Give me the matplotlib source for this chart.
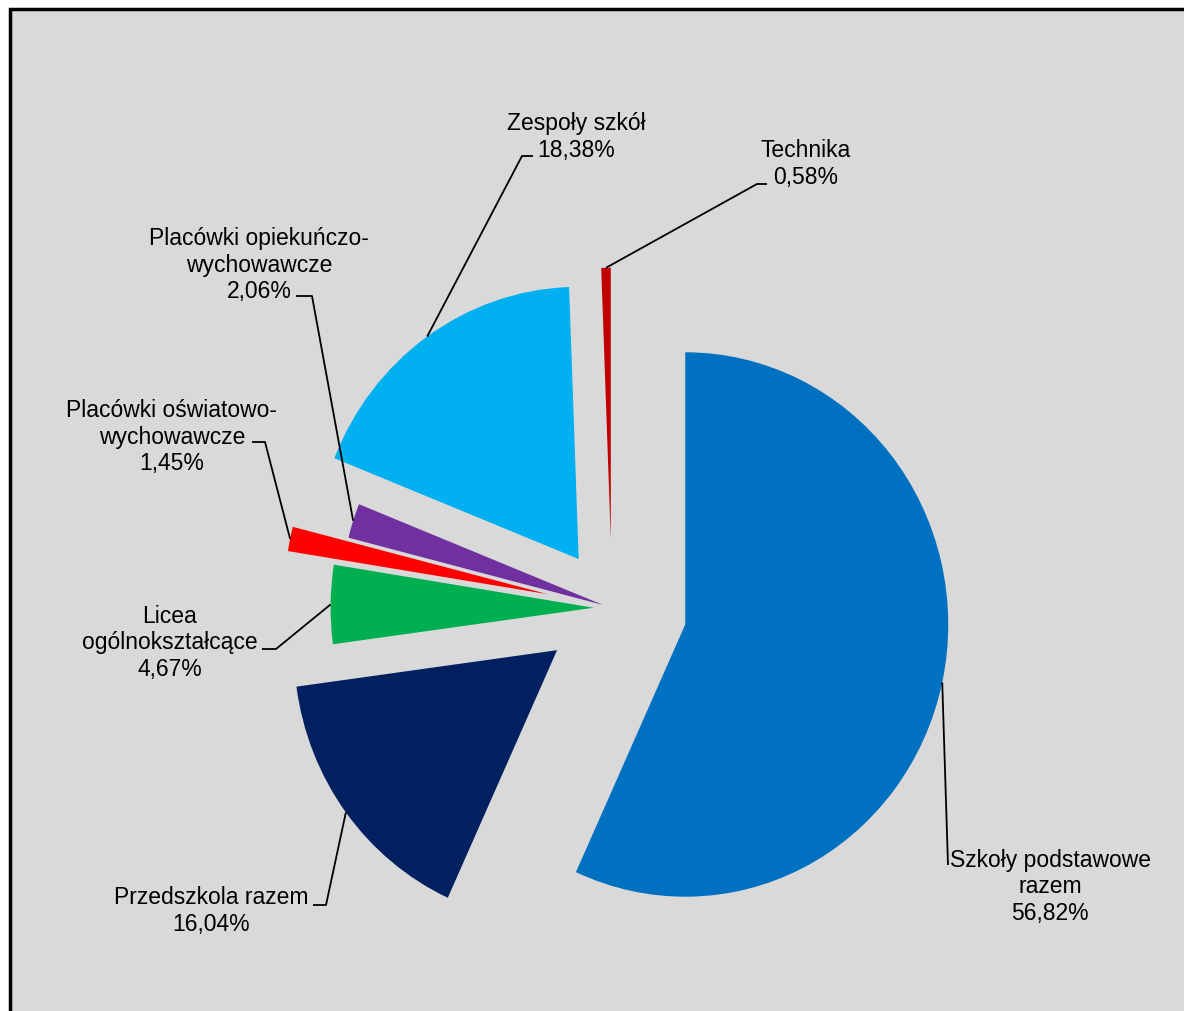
import numpy as np
import matplotlib.pyplot as plt
from matplotlib.patches import Rectangle

plt.rcParams['font.family'] = ['Liberation Sans', 'DejaVu Sans']

# data
labels = ['Szkoły podstawowe\nrazem', 'Przedszkola razem', 'Licea\nogólnokształcące',
          'Placówki oświatowo-\nwychowawcze', 'Placówki opiekuńczo-\nwychowawcze',
          'Zespoły szkół', 'Technika']
shares = [56.82, 16.04, 4.67, 1.45, 2.06, 18.38, 0.58]
colors = ['#0070C0', '#002060', '#00B050', '#FF0000', '#7030A0', '#00B0F0', '#C00000']
explode = [0.285, 0.26, 0.07, 0.25, 0.035, 0.22, 0.25]  # fraction of radius

# layout, in image pixels (y going down)
W, H, SY = 1184, 1012, 1.035
R = 263
label_pos = [(1050, 887), (211, 911), (170, 643), (172, 437), (259, 265), (576, 137), (806, 164)]
elbows = [[(948, 866)],
          [(326, 906), (313, 906)],
          [(276, 650), (262, 650)],
          [(265, 443), (252, 443)],
          [(312, 297), (296, 297)],
          [(522, 157), (533, 157)],
          [(757, 185), (767, 185)]]


def px(x, y):
    """image pixel -> data coords"""
    return x, (H - y) / SY


fig = plt.figure(figsize=(W / 100, H / 100), dpi=100, facecolor='white')
fig.patches.append(Rectangle((10 / W, -0.05), 1.1, 1 - 10 / H + 0.05,
                             transform=fig.transFigure, facecolor='#D9D9D9',
                             edgecolor='black', lw=2.5, zorder=-1))
ax = fig.add_axes([0, 0, 1, 1])

# pie() takes explode in data units, not radius fractions
wedges, _ = ax.pie(shares, colors=colors, explode=[e * R for e in explode],
                   startangle=90, counterclock=False, radius=R,
                   center=px(612, 609), wedgeprops=dict(linewidth=0))

ax.set_xlim(0, W)
ax.set_ylim(0, H / SY)
ax.set_aspect('auto')
ax.axis('off')

for w, name, val, pos, elb in zip(wedges, labels, shares, label_pos, elbows):
    mid = np.deg2rad((w.theta1 + w.theta2) / 2)
    ax0 = w.center[0] + w.r * np.cos(mid)
    ay0 = w.center[1] + w.r * np.sin(mid)
    pts = [px(*p) for p in elb]
    xs = [ax0] + [p[0] for p in pts]
    ys = [ay0] + [p[1] for p in pts]
    ax.plot(xs, ys, color='black', lw=1.3, solid_capstyle='butt')
    txt = name + '\n' + ('%.2f%%' % val).replace('.', ',')
    ax.text(*px(*pos), txt, ha='center', va='center', fontsize=16.5,
            linespacing=1.2)

fig.savefig('out.png', dpi=100)
